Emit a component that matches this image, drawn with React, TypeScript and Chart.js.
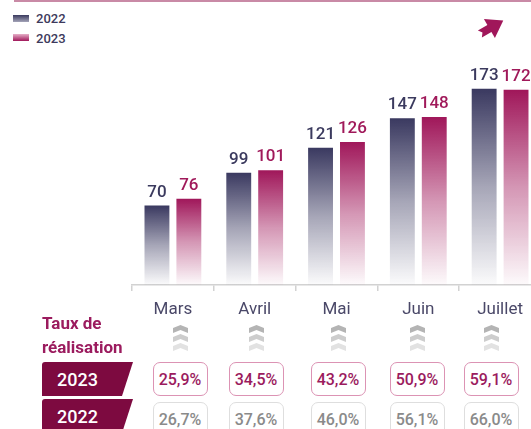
import React, { useEffect, useRef } from "react";
import { Chart, registerables } from "chart.js";

Chart.register(...registerables);

const months = ["Mars", "Avril", "Mai", "Juin", "Juillet"];
const seriesNames = ["2022", "2023"];
const values2022 = [70, 99, 121, 147, 173];
const values2023 = [76, 101, 126, 148, 172];
const rate2023 = ["25,9%", "34,5%", "43,2%", "50,9%", "59,1%"];
const rate2022 = ["26,7%", "37,6%", "46,0%", "56,1%", "66,0%"];
const tableTitle = ["Taux de", "réalisation"];

const NAVY = [58, 57, 96];
const MAGENTA = [160, 23, 90];
const labelColors = ["#3b3a5e", "#a0195a"];
const colCenters = [180, 256, 338, 417, 491];

function barGradient(rgb: number[]) {
  return (ctx: any) => {
    const chart = ctx.chart;
    const area = chart.chartArea;
    const c = `rgb(${rgb.join(",")})`;
    if (!area || ctx.raw == null) return c;
    const yTop = chart.scales.y.getPixelForValue(ctx.raw);
    const g = chart.ctx.createLinearGradient(0, yTop, 0, area.bottom);
    g.addColorStop(0, `rgba(${rgb.join(",")},1)`);
    g.addColorStop(0.5, `rgba(${rgb.join(",")},0.45)`);
    g.addColorStop(1, `rgba(${rgb.join(",")},0.02)`);
    return g;
  };
}

const valueLabels = {
  id: "valueLabels",
  afterDatasetsDraw(chart: any) {
    const ctx = chart.ctx;
    chart.data.datasets.forEach((ds: any, i: number) => {
      const meta = chart.getDatasetMeta(i);
      meta.data.forEach((bar: any, j: number) => {
        ctx.save();
        ctx.fillStyle = labelColors[i];
        ctx.font = "500 17px Roboto";
        ctx.textAlign = "center";
        ctx.textBaseline = "alphabetic";
        ctx.fillText(String(ds.data[j]), bar.x, bar.y - 9);
        ctx.restore();
      });
    });
  },
};

function Chevrons({ cx }: { cx: number }) {
  const band = (y: number, fill: string) => (
    <polygon
      points={`0,${y + 3} 7.5,${y} 15,${y + 3} 15,${y + 8} 7.5,${y + 5} 0,${y + 8}`}
      fill={fill}
    />
  );
  return (
    <svg
      width={15}
      height={27}
      style={{ position: "absolute", left: cx - 7.5, top: 325 }}
    >
      {band(0, "#b4b4b4")}
      {band(9, "#cdcdcd")}
      {band(18, "#e2e2e2")}
    </svg>
  );
}

function Tag({ text, top }: { text: string; top: number }) {
  return (
    <div
      style={{
        position: "absolute",
        left: 42,
        top,
        width: 91,
        height: 34,
        background: "#7d0a40",
        clipPath: "polygon(0 0, 100% 0, calc(100% - 11px) 100%, 0 100%)",
        borderTopLeftRadius: 3,
        color: "#fff",
        fontSize: 18,
        fontWeight: 500,
        display: "flex",
        alignItems: "center",
        paddingLeft: 15,
        boxSizing: "border-box",
      }}
    >
      {text}
    </div>
  );
}

function RateBox({ cx, top, text, border, color }: any) {
  return (
    <div
      style={{
        position: "absolute",
        left: cx - 27.5,
        top,
        width: 55,
        height: 34,
        boxSizing: "border-box",
        border: `1px solid ${border}`,
        borderRadius: 7,
        color,
        fontSize: 16,
        fontWeight: 500,
        display: "flex",
        alignItems: "center",
        justifyContent: "center",
        background: "#fff",
      }}
    >
      {text}
    </div>
  );
}

export default function App() {
  const canvasRef = useRef<HTMLCanvasElement | null>(null);

  useEffect(() => {
    document.body.style.margin = "0";
    const canvas = canvasRef.current;
    if (!canvas) return;
    const chart = new Chart(canvas, {
      type: "bar",
      data: {
        labels: months,
        datasets: [
          {
            label: seriesNames[0],
            data: values2022,
            backgroundColor: barGradient(NAVY) as any,
            borderWidth: 0,
            categoryPercentage: 0.78,
            barPercentage: 0.78,
          },
          {
            label: seriesNames[1],
            data: values2023,
            backgroundColor: barGradient(MAGENTA) as any,
            borderWidth: 0,
            categoryPercentage: 0.78,
            barPercentage: 0.78,
          },
        ],
      },
      options: {
        responsive: false,
        maintainAspectRatio: false,
        animation: false,
        layout: { padding: { left: 132, right: 0, top: 58, bottom: 0 } },
        plugins: {
          legend: { display: false },
          tooltip: { enabled: false },
        },
        scales: {
          x: {
            grid: {
              display: true,
              drawOnChartArea: false,
              drawTicks: true,
              tickLength: 6,
              color: "#d2d2d2",
              lineWidth: 1.5,
              offset: true,
            },
            border: { display: true, color: "#d2d2d2", width: 1.5 },
            ticks: {
              color: "#4a4868",
              font: { family: "Roboto", size: 17, weight: "400" as any },
              padding: 9,
            },
            afterFit: (s: any) => {
              s.height = 41;
            },
          },
          y: { display: false, min: 0, max: 200 },
        },
      },
      plugins: [valueLabels],
    });
    return () => chart.destroy();
  }, []);

  return (
    <div
      style={{
        position: "fixed",
        left: 0,
        top: 0,
        width: 531,
        height: 429,
        overflow: "hidden",
        background: "#fff",
        fontFamily: "Roboto, sans-serif",
      }}
    >
      <div
        style={{
          position: "absolute",
          left: 14,
          top: 0,
          width: 517,
          height: 2,
          background: "#c98aa6",
        }}
      />
      {seriesNames.map((name, i) => (
        <div key={name}>
          <div
            style={{
              position: "absolute",
              left: 13,
              top: i === 0 ? 15 : 34,
              width: 16,
              height: 7,
              background:
                i === 0
                  ? "linear-gradient(#3a3a5e, #a4a4b8)"
                  : "linear-gradient(#e6b0c8, #a0175a)",
            }}
          />
          <div
            style={{
              position: "absolute",
              left: 36,
              top: i === 0 ? 10 : 30,
              fontSize: 13,
              fontWeight: 500,
              color: "#3d3a5c",
              lineHeight: "18px",
            }}
          >
            {name}
          </div>
        </div>
      ))}
      <svg
        width={40}
        height={36}
        style={{ position: "absolute", left: 472, top: 9 }}
      >
        <g transform="rotate(-30 20 18)">
          <polygon points="6,14 20,14 20,22 6,22 9,18" fill="#a0175a" />
          <polygon points="17,7 33,18 17,29" fill="#a0175a" />
        </g>
      </svg>
      <canvas
        ref={canvasRef}
        width={541}
        height={326}
        style={{ position: "absolute", left: 0, top: 0, width: 541, height: 326 }}
      />
      <div
        style={{
          position: "absolute",
          left: 42,
          top: 311,
          fontSize: 17,
          fontWeight: 700,
          lineHeight: "24px",
          color: "#9b1b5e",
        }}
      >
        {tableTitle[0]}
        <br />
        {tableTitle[1]}
      </div>
      <Tag text={seriesNames[1]} top={362} />
      <Tag text={seriesNames[0]} top={399} />
      {colCenters.map((cx, i) => (
        <React.Fragment key={i}>
          <Chevrons cx={cx} />
          <RateBox
            cx={cx}
            top={362}
            text={rate2023[i]}
            border="#dc93b4"
            color="#9b1b5e"
          />
          <RateBox
            cx={cx}
            top={402}
            text={rate2022[i]}
            border="#dedede"
            color="#8a8a8a"
          />
        </React.Fragment>
      ))}
    </div>
  );
}
